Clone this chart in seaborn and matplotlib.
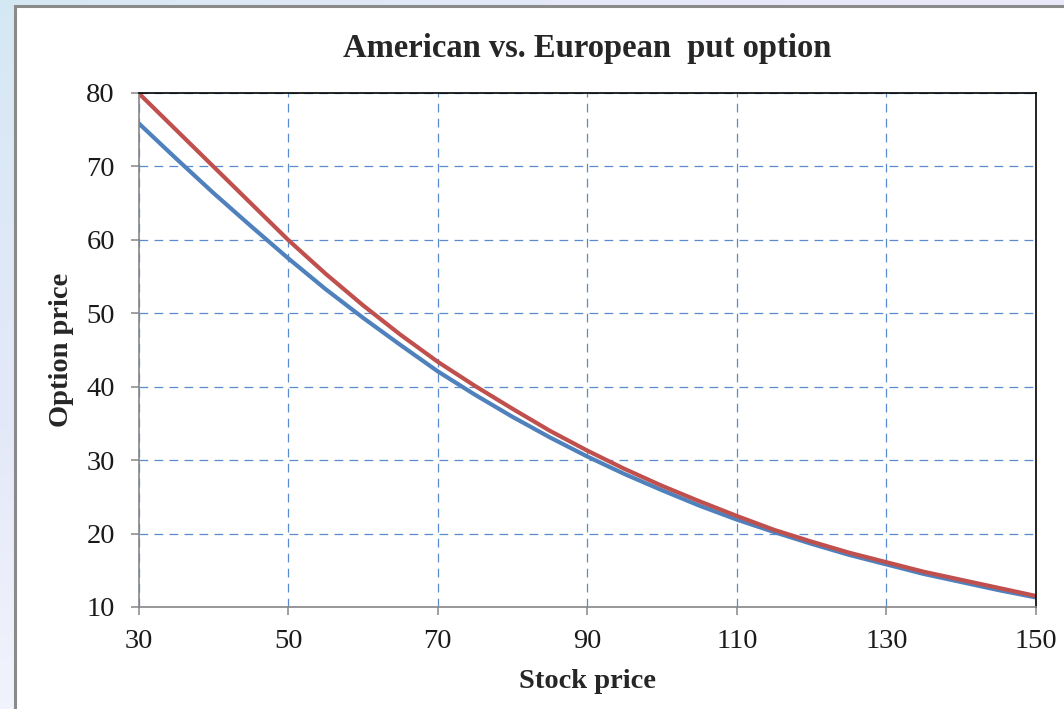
import numpy as np
import pandas as pd
import matplotlib
matplotlib.use("Agg")
import matplotlib.pyplot as plt
from matplotlib.patches import Rectangle
import seaborn as sns

# Stock prices and option values (strike 110)
stock_price = [30, 35, 40, 45, 50, 55, 60, 65, 70, 75, 80, 85, 90,
               95, 100, 105, 110, 115, 120, 125, 130, 135, 140, 145, 150]
american_put = [80.0, 75.0, 70.0, 65.0, 60.0, 55.4, 51.1, 47.1, 43.4, 40.1,
                37.0, 34.0, 31.3, 28.8, 26.5, 24.4, 22.4, 20.5, 18.9, 17.4,
                16.1, 14.8, 13.7, 12.6, 11.5]
european_put = [75.9, 71.1, 66.4, 61.9, 57.5, 53.3, 49.4, 45.7, 42.1, 38.9,
                35.9, 33.1, 30.5, 28.1, 25.9, 23.8, 21.9, 20.2, 18.6, 17.1,
                15.8, 14.5, 13.4, 12.3, 11.3]
x_ticks = [30, 50, 70, 90, 110, 130, 150]
y_ticks = [10, 20, 30, 40, 50, 60, 70, 80]

sns.set_style("white")
plt.rcParams["font.family"] = ["Liberation Serif", "DejaVu Serif"]

W, H = 1064, 709
fig = plt.figure(figsize=(W / 100, H / 100), dpi=100)

# soft slide-style backdrop behind the chart frame
bg = fig.add_axes([0, 0, 1, 1], zorder=-10)
yy, xx = np.mgrid[0:H, 0:W]
blue = np.array([212, 232, 243]) / 255
lav = np.array([236, 233, 251]) / 255
pale = np.array([243, 246, 252]) / 255
t_blue = np.exp(-(xx / 500.0 + yy / 420.0))[..., None]
t_pale = np.clip((yy - 420) / 289.0, 0, 1)[..., None] * 0.8
img = lav * (1 - t_blue) + blue * t_blue
img = img * (1 - t_pale) + pale * t_pale
bg.imshow(img, aspect="auto", extent=[0, W, H, 0])
bg.set_xlim(0, W)
bg.set_ylim(H, 0)
bg.axis("off")

# white chart frame
fig.patches.append(Rectangle((15 / W, -0.05), 1.2, 1 - 6 / H + 0.05,
                             transform=fig.transFigure, facecolor="white",
                             edgecolor="#8a8a8a", linewidth=2.2, zorder=-5))

left, right, top, bottom = 138.5, 1036, 93, 607
ax = fig.add_axes([left / W, 1 - bottom / H, (right - left) / W, (bottom - top) / H])
ax.set_facecolor("white")

df = pd.DataFrame({
    "Stock price": stock_price * 2,
    "Option price": american_put + european_put,
    "Type": ["American"] * len(stock_price) + ["European"] * len(stock_price),
})
sns.lineplot(data=df, x="Stock price", y="Option price", hue="Type",
             hue_order=["European", "American"],
             palette={"American": "#C0504D", "European": "#4F81BD"},
             linewidth=3.0, legend=False, ax=ax, zorder=5)

ax.set_xlim(30, 150)
ax.set_ylim(10, 80)
ax.set_xticks(x_ticks)
ax.set_yticks(y_ticks)
ax.tick_params(axis="both", which="major", direction="out", length=6,
               width=1.1, color="#868686", labelsize=20.5, labelcolor="#1a1a1a",
               bottom=True, left=True, top=False, right=False)
ax.tick_params(axis="y", pad=11)
ax.tick_params(axis="x", pad=10)

ax.grid(True, color="#5B8BCF", linestyle=(0, (7, 5)), linewidth=0.9)
for side in ("left", "bottom"):
    ax.spines[side].set_color("#868686")
    ax.spines[side].set_linewidth(1.2)
for side in ("top", "right"):
    ax.spines[side].set_color("black")
    ax.spines[side].set_linewidth(1.2)
for s in ax.spines.values():
    s.set_zorder(6)

ax.set_xlabel("Stock price", fontsize=20.5, fontweight="bold", labelpad=11)
ax.set_ylabel("Option price", fontsize=20.5, fontweight="bold", labelpad=9)
ax.set_title("American vs. European  put option", fontsize=23.5,
             fontweight="bold", pad=26)

fig.savefig("out.png", dpi=100)
